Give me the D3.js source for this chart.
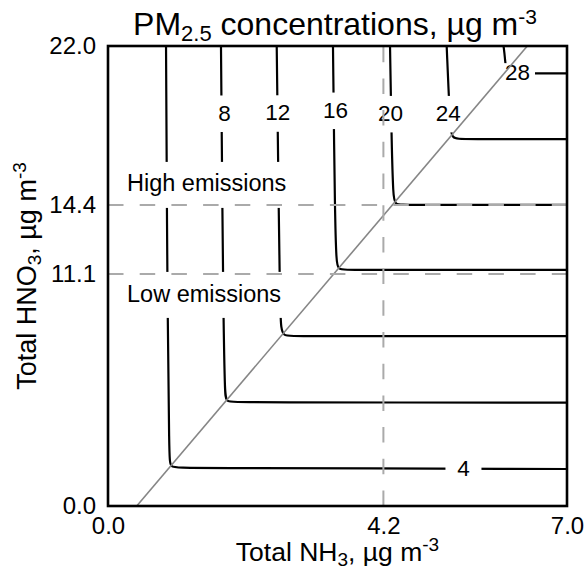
<!DOCTYPE html>
<html><head><meta charset="utf-8">
<script src="https://cdn.jsdelivr.net/npm/d3@7"></script>
<style>
body{margin:0;background:#fff}
svg{display:block;font-family:"Liberation Sans",Arial,Helvetica,sans-serif}
</style>
</head><body>
<svg id="c" width="585" height="570"></svg>
<script>
// ---- data ----
const xTicks = [0.0, 4.2, 7.0];
const yTicks = [0.0, 11.1, 14.4, 22.0];
const levels = [4, 8, 12, 16, 20, 24, 28];
// contour paths as [NH3, HNO3] points
const contour4  = [[0.885,22],[0.907,8.99],[0.935,2.34],[0.946,1.83],[1.098,1.82],[7.0,1.77]];
const contour8  = [[1.723,22],[1.758,8.99],[1.784,5.45],[1.795,4.97],[1.952,4.96],[7.0,4.94]];
const contour12 = [[2.573,22],[2.623,8.99],[2.643,8.61],[2.662,8.12],[2.837,8.12],[7.0,8.12]];
const contour16 = [[3.431,22],[3.462,13.44],[3.485,11.77],[3.500,11.29],[3.660,11.29],[7.0,11.29]];
const contour20 = [[4.301,22],[4.327,17.03],[4.351,14.87],[4.369,14.40],[4.529,14.40],[7.0,14.40]];
const contour24 = [[5.165,22],[5.216,18.22],[5.242,17.55],[5.399,17.55],[7.0,17.55]];
const contour28 = [[6.032,22],[6.055,21.43],[6.070,20.69],[6.207,20.69],[7.0,20.69]];
const stoichLine = [[0.438,0],[6.395,22]];
const refNH3 = 4.2;
const refHNO3 = [14.4, 11.1];
const emissionLabels = ["High emissions", "Low emissions"];

// ---- layout ----
const contours = [contour4, contour8, contour12, contour16, contour20, contour24, contour28];
const labelAt = [[5.421,1.84],[1.777,18.82],[2.590,18.83],[3.470,18.96],[4.308,18.80],[5.190,18.80],[6.245,20.75]];
const gapBox = [[-18,18,-11,11],[-15,15,-17,19.5],[-18,18,-17,19.5],[-18,18,-17,19.5],[-18,18,-17,19.5],[-18,18,-17,19.5],[-17.5,17.5,-9,10.5]];

const W = 585, H = 570;
const x = d3.scaleLinear().domain([0, 7]).range([108, 567]);
const y = d3.scaleLinear().domain([0, 22]).range([506, 46]);
const svg = d3.select('#c');
const FF = '"Liberation Sans",Arial,Helvetica,sans-serif';

svg.append('rect').attr('width', W).attr('height', H).attr('fill', '#fff');
svg.append('defs').append('clipPath').attr('id', 'clip')
  .append('rect').attr('x', x(0)).attr('y', y(22)).attr('width', x(7) - x(0)).attr('height', y(0) - y(22));
const plot = svg.append('g').attr('clip-path', 'url(#clip)');

// contours
const line = d3.line().x(d => x(d[0])).y(d => y(d[1])).curve(d3.curveBasis);
plot.selectAll('path.contour').data(contours).join('path')
  .attr('class', 'contour').attr('d', line)
  .attr('fill', 'none').attr('stroke', '#000').attr('stroke-width', 2.2);

// label gaps
plot.selectAll('rect.gap').data(levels).join('rect')
  .attr('class', 'gap')
  .attr('x', (d, i) => x(labelAt[i][0]) + gapBox[i][0])
  .attr('y', (d, i) => y(labelAt[i][1]) + gapBox[i][2])
  .attr('width', (d, i) => gapBox[i][1] - gapBox[i][0])
  .attr('height', (d, i) => gapBox[i][3] - gapBox[i][2])
  .attr('fill', '#fff');
plot.selectAll('text.lvl').data(levels).join('text')
  .attr('class', 'lvl')
  .attr('x', (d, i) => x(labelAt[i][0]))
  .attr('y', (d, i) => y(labelAt[i][1]))
  .attr('dy', '0.36em')
  .attr('text-anchor', 'middle')
  .attr('font-size', 22.5)
  .text(d => d);

// emission label boxes
const emBoxTop = [-43, -2];
const emBase = [-13.5, 28];
plot.selectAll('rect.em').data(refHNO3).join('rect')
  .attr('class', 'em')
  .attr('x', 118).attr('width', 178)
  .attr('y', (d, i) => y(d) + emBoxTop[i]).attr('height', 46)
  .attr('fill', '#fff');
plot.selectAll('text.em').data(refHNO3).join('text')
  .attr('class', 'em')
  .attr('x', x(0) + 19)
  .attr('y', (d, i) => y(d) + emBase[i])
  .attr('font-size', 23.5)
  .text((d, i) => emissionLabels[i]);

// gray reference lines
plot.append('path')
  .attr('d', d3.line().x(d => x(d[0])).y(d => y(d[1]))(stoichLine))
  .attr('stroke', '#868686').attr('stroke-width', 1.6).attr('fill', 'none');
plot.append('line')
  .attr('x1', x(refNH3)).attr('x2', x(refNH3)).attr('y1', y(0)).attr('y2', y(22))
  .attr('stroke', '#aaa').attr('stroke-width', 2).attr('stroke-dasharray', '15.5,16.2');
plot.selectAll('line.h').data(refHNO3).join('line')
  .attr('class', 'h')
  .attr('x1', x(0)).attr('x2', x(7)).attr('y1', d => y(d)).attr('y2', d => y(d))
  .attr('stroke', '#aaa').attr('stroke-width', 2).attr('stroke-dasharray', '15.5,16.2');

// frame
svg.append('rect')
  .attr('x', x(0)).attr('y', y(22)).attr('width', x(7) - x(0)).attr('height', y(0) - y(22))
  .attr('fill', 'none').attr('stroke', '#000').attr('stroke-width', 2.6);

// axes
const fmt = d3.format('.1f');
const xa = svg.append('g').attr('transform', `translate(0,${y(0)})`)
  .call(d3.axisBottom(x).tickValues(xTicks).tickFormat(fmt).tickSize(0).tickPadding(11));
xa.select('.domain').remove();
xa.attr('font-size', 24).attr('font-family', FF);
xa.selectAll('text').attr('fill', '#000');
const ya = svg.append('g').attr('transform', `translate(${x(0)},0)`)
  .call(d3.axisLeft(y).tickValues(yTicks).tickFormat(fmt).tickSize(0).tickPadding(12));
ya.select('.domain').remove();
ya.attr('font-size', 24).attr('font-family', FF);
ya.selectAll('text').attr('fill', '#000');

// axis titles
const xt = svg.append('text').attr('x', (x(0) + x(7)) / 2).attr('y', 561)
  .attr('text-anchor', 'middle').attr('font-size', 26.5);
xt.append('tspan').text('Total NH');
xt.append('tspan').attr('font-size', 19).attr('dy', 5).text('3');
xt.append('tspan').attr('dy', -5).text(', µg m');
xt.append('tspan').attr('font-size', 19).attr('dy', -10).text('-3');

const yt = svg.append('text')
  .attr('transform', `translate(36,${(y(0) + y(22)) / 2}) rotate(-90)`)
  .attr('text-anchor', 'middle').attr('font-size', 27);
yt.append('tspan').text('Total HNO');
yt.append('tspan').attr('font-size', 19).attr('dy', 5).text('3');
yt.append('tspan').attr('dy', -5).text(', µg m');
yt.append('tspan').attr('font-size', 19).attr('dy', -10).text('-3');

// title
const tt = svg.append('text').attr('x', 335).attr('y', 35)
  .attr('text-anchor', 'middle').attr('font-size', 32);
tt.append('tspan').text('PM');
tt.append('tspan').attr('font-size', 22).attr('dy', 6).text('2.5');
tt.append('tspan').attr('dy', -6).text(' concentrations, µg m');
tt.append('tspan').attr('font-size', 21).attr('dy', -11).text('-3');
</script>
</body></html>
